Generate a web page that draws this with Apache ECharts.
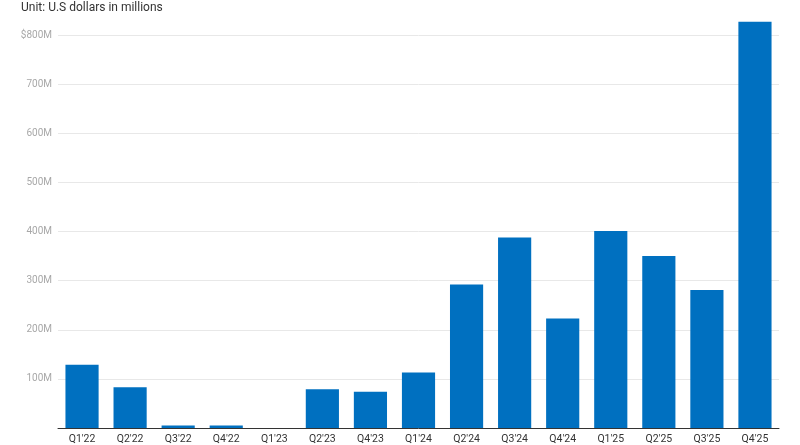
<!DOCTYPE html>
<html>
<head>
<meta charset="utf-8">
<script src="https://cdn.jsdelivr.net/npm/echarts@6/dist/echarts.min.js"></script>
<style>
html,body{margin:0;padding:0;background:#fff;}
#chart{width:800px;height:445px;}
</style>
</head>
<body>
<div id="chart"></div>
<script>
const categories = ["Q1'22","Q2'22","Q3'22","Q4'22","Q1'23","Q2'23","Q4'23","Q1'24","Q2'24","Q3'24","Q4'24","Q1'25","Q2'25","Q3'25","Q4'25"];
const values = [129, 83, 5, 5, 0, 79, 74, 113, 292, 388, 223, 401, 350, 281, 827];
const yTicks = [0, 100, 200, 300, 400, 500, 600, 700, 800];

const chart = echarts.init(document.getElementById('chart'));
chart.setOption({
  animation: false,
  backgroundColor: '#fff',
  textStyle: { fontFamily: 'Roboto, "Noto Sans", sans-serif' },
  title: {
    text: 'Unit: U.S dollars in millions',
    left: 16, top: -3,
    textStyle: { fontSize: 12, fontWeight: 'normal', color: '#333', fontFamily: 'Roboto' }
  },
  grid: { left: 58, right: 21, top: 35, bottom: 14, containLabel: false },
  xAxis: {
    type: 'category',
    data: categories,
    axisLine: { lineStyle: { color: '#333', width: 1 } },
    axisTick: { show: false },
    axisLabel: { color: '#333', fontSize: 10.5, margin: 6, interval: 0 }
  },
  yAxis: {
    type: 'value',
    min: 0, max: yTicks[yTicks.length - 1], interval: 100,
    axisLine: { show: false },
    axisTick: { show: false },
    splitLine: { lineStyle: { color: '#e8e8e8', width: 1 } },
    axisLabel: {
      color: '#a8a8a8', fontSize: 10, margin: 6, showMinLabel: false,
      formatter: function (v) { return (v === 800 ? '$' : '') + v + 'M'; }
    }
  },
  series: [{
    type: 'bar',
    data: values,
    barCategoryGap: '31%',
    clip: false,
    itemStyle: { color: '#0070C0' }
  }]
});
</script>
</body>
</html>
